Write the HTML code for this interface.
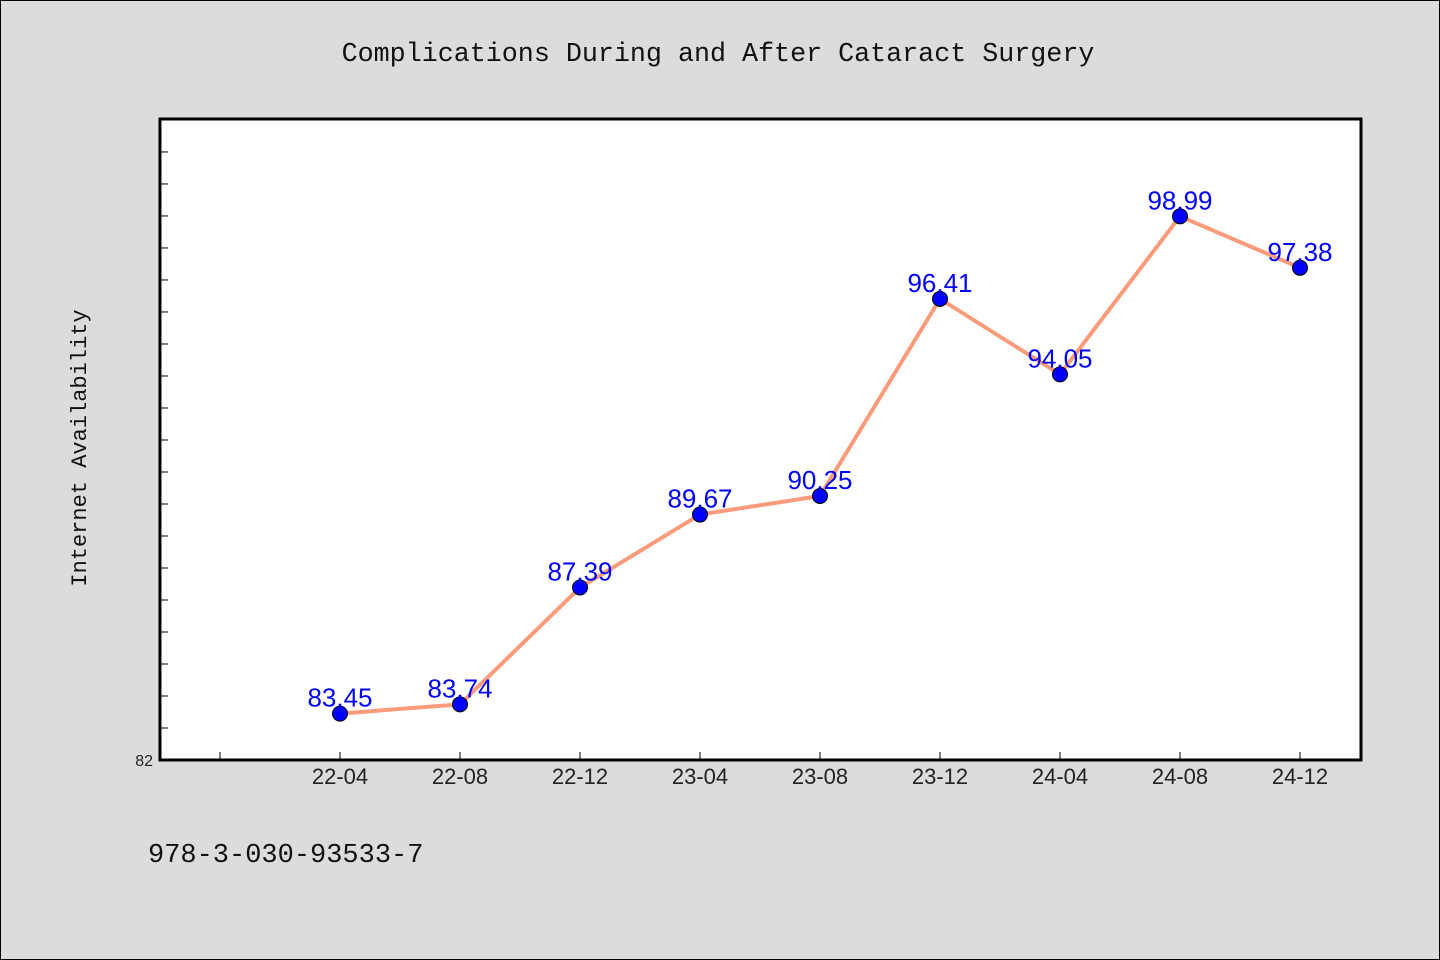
<!DOCTYPE html>
<html><head><meta charset="utf-8"><style>
body{margin:0;background:#dcdcdc;}
svg{display:block}
</style></head><body>
<svg width="1440" height="960">
<rect x="0.5" y="0.5" width="1439" height="959" fill="#dcdcdc" stroke="#000"/>
<text x="718" y="61" text-anchor="middle" font-family="Liberation Mono, monospace" font-size="26.7" fill="#111">Complications During and After Cataract Surgery</text>
<rect x="160" y="119" width="1201" height="641" fill="#fff"/>
<g id="ticks"></g>
<polyline id="line" fill="none" stroke="#fa9c7c" stroke-width="4"/>
<g id="points"></g>
<rect x="160" y="119" width="1201" height="641" fill="none" stroke="#000" stroke-width="3"/>
<text x="86" y="448" transform="rotate(-90 86 448)" text-anchor="middle" font-family="Liberation Mono, monospace" font-size="22" fill="#111">Internet Availability</text>
<text x="153" y="766" text-anchor="end" font-family="Liberation Sans, sans-serif" font-size="16" fill="#222">82</text>
<text x="148" y="862" font-family="Liberation Mono, monospace" font-size="27" fill="#111">978-3-030-93533-7</text>
</svg>
<script>
const categories=["22-04","22-08","22-12","23-04","23-08","23-12","24-04","24-08","24-12"];
const values=[83.45,83.74,87.39,89.67,90.25,96.41,94.05,98.99,97.38];
const labels=["83.45","83.74","87.39","89.67","90.25","96.41","94.05","98.99","97.38"];
const NS="http://www.w3.org/2000/svg";
const yMin=82,yMax=102.03,yTop=119,yBot=760;
function yPos(v){return yBot-(v-yMin)/(yMax-yMin)*(yBot-yTop);}
function xPos(i){return 340+i*120;}
const tg=document.getElementById('ticks');
for(let v=83;v<=101;v++){const l=document.createElementNS(NS,'line');
l.setAttribute('x1',160);l.setAttribute('x2',168);l.setAttribute('y1',yPos(v));l.setAttribute('y2',yPos(v));l.setAttribute('stroke','#000');


tg.appendChild(l);}
for(let i=-1;i<categories.length;i++){const l=document.createElementNS(NS,'line');
l.setAttribute('x1',xPos(i));l.setAttribute('x2',xPos(i));l.setAttribute('y1',760);l.setAttribute('y2',752);l.setAttribute('stroke','#000');


tg.appendChild(l);
if(i>=0){const t=document.createElementNS(NS,'text');t.setAttribute('x',xPos(i));t.setAttribute('y',784);t.setAttribute('text-anchor','middle');
t.setAttribute('font-family','Liberation Sans, sans-serif');t.setAttribute('font-size','22');t.setAttribute('fill','#222');t.textContent=categories[i];


tg.appendChild(t);}}
document.getElementById('line').setAttribute('points',values.map((v,i)=>xPos(i)+','+yPos(v)).join(' '));
const pg=document.getElementById('points');
values.forEach((v,i)=>{const c=document.createElementNS(NS,'circle');c.setAttribute('cx',xPos(i));c.setAttribute('cy',yPos(v));c.setAttribute('r',7.5);c.setAttribute('fill','#0000ff');c.setAttribute('stroke','#000');


pg.appendChild(c);
const t=document.createElementNS(NS,'text');t.setAttribute('x',xPos(i));t.setAttribute('y',yPos(v)-7);t.setAttribute('text-anchor','middle');
t.setAttribute('font-family','Liberation Sans, sans-serif');t.setAttribute('font-size','26');t.setAttribute('fill','#0000ff');t.textContent=labels[i];


pg.appendChild(t);});
</script>
</body></html>
